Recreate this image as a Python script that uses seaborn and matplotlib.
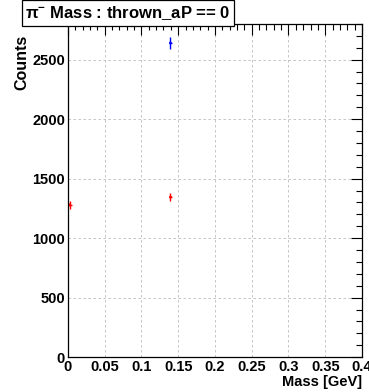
import matplotlib
matplotlib.use("Agg")
import matplotlib.pyplot as plt
import seaborn as sns
import pandas as pd
import numpy as np
from matplotlib.ticker import MultipleLocator

sns.set_style("white")
plt.rcParams['font.family'] = ['Liberation Sans', 'DejaVu Sans']
plt.rcParams['text.color'] = 'black'
plt.rcParams['axes.labelcolor'] = 'black'
plt.rcParams['xtick.color'] = 'black'
plt.rcParams['ytick.color'] = 'black'

# data
blue_mass = [0.1395]
blue_counts = [2640]
red_mass = [0.0025, 0.1395]
red_counts = [1280, 1345]
bin_half = 0.0025

fig = plt.figure(figsize=(3.69, 3.92), dpi=100)
ax = fig.add_axes([0.184, 0.089, 0.797, 0.850])

df = pd.DataFrame({
    "mass": red_mass + blue_mass,
    "counts": red_counts + blue_counts,
    "series": ["red"] * len(red_mass) + ["blue"] * len(blue_mass),
})
sns.scatterplot(data=df, x="mass", y="counts", hue="series",
                palette={"red": "red", "blue": "blue"}, s=4, linewidth=0,
                legend=False, ax=ax)
for col, xs, ys in (("red", red_mass, red_counts), ("blue", blue_mass, blue_counts)):
    ax.errorbar(xs, ys, yerr=np.sqrt(ys), xerr=bin_half, fmt="none",
                ecolor=col, elinewidth=1.0, capsize=0)

ax.set_xlim(0, 0.4)
ax.set_ylim(0, 2800)
ax.xaxis.set_minor_locator(MultipleLocator(0.01))
ax.yaxis.set_major_locator(MultipleLocator(500))
ax.yaxis.set_minor_locator(MultipleLocator(100))
ax.set_xticks([0, 0.05, 0.1, 0.15, 0.2, 0.25, 0.3, 0.35, 0.4])
ax.set_xticklabels(["0", "0.05", "0.1", "0.15", "0.2", "0.25", "0.3", "0.35", "0.4"])
ax.grid(True, which="major", color="#bbbbbb", linestyle=(0, (3, 3)), linewidth=0.6)
ax.tick_params(which="both", direction="in", top=True, right=True,
               labelsize=10.5, pad=2)
ax.tick_params(which="major", length=8, width=0.8)
ax.tick_params(which="minor", length=4, width=0.8)
for lab in ax.get_xticklabels() + ax.get_yticklabels():
    lab.set_fontweight("bold")
for s in ax.spines.values():
    s.set_linewidth(0.9)
    s.set_color("black")

ax.set_xlabel("")
ax.set_ylabel("")
fig.text(0.981, 0.008, "Mass [GeV]", ha="right", va="bottom",
         fontsize=10.5, fontweight="bold")
fig.text(0.058, 0.911, "Counts", ha="center", va="top", rotation=90,
         fontsize=11.5, fontweight="bold")
fig.text(0.347, 0.967, r"$\mathregular{\pi^{-}}$ Mass : thrown_aP == 0", ha="center", va="center",
         fontsize=12, fontweight="bold",
         bbox=dict(boxstyle="square,pad=0.22", facecolor="white",
                   edgecolor="black", linewidth=0.9))

fig.savefig("out.png", dpi=100)
